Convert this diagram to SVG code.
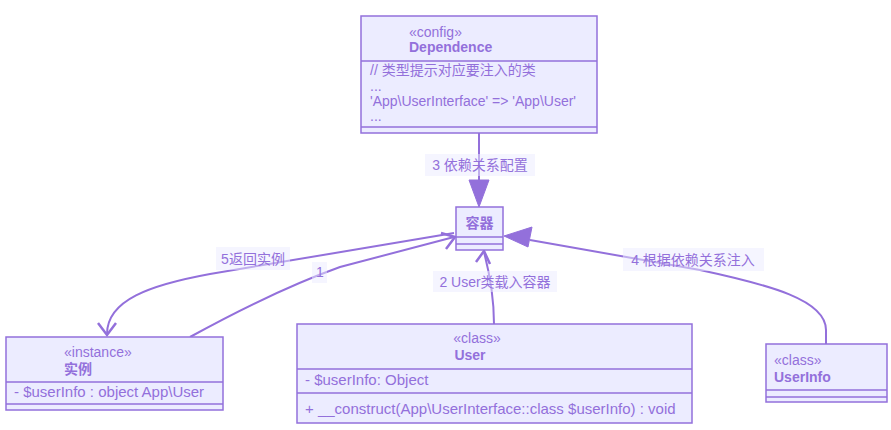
<svg xmlns="http://www.w3.org/2000/svg" width="891" height="430" viewBox="0 0 891 430">
<defs>
<style>
.box{fill:#ECECFF;stroke:#9370DB;stroke-width:1.5}
.div{stroke:#9370DB;stroke-width:1.5}
.t{font-family:"Liberation Sans","Noto Sans CJK SC",sans-serif;font-size:14px;fill:#9370DB}
.m{font-size:15px}
.b{font-weight:bold}
.edge{fill:none;stroke:#9370DB;stroke-width:2}
.head{fill:#9370DB;stroke:#9370DB;stroke-width:1}
.open{fill:none;stroke:#9370DB;stroke-width:2.5;stroke-linejoin:miter}
.lbg{fill:#ECECFF;opacity:0.5}
.lt{font-family:"Liberation Sans","Noto Sans CJK SC",sans-serif;font-size:14px;fill:#9370DB;text-anchor:middle}
</style>
</defs>
<rect width="891" height="430" fill="#ffffff"/>
<g id="connectors">
<path class="edge" d="M479,133 L479,182"/>
<polygon class="head" points="479,207 469,180 489,180"/>
<path class="edge" d="M826,344 L826,330 C826,300 770,285 700,270 L530,240"/>
<polygon class="head" points="504,236 532,227 528,247"/>
<path class="edge" d="M494,324 C494,300 490,275 484,252"/>
<path class="open" d="M476,262 L484,251 L490,264"/>
<path class="edge" d="M190,337 C230,315 290,285 340,267 L454,237"/>
<path class="open" d="M441,233 L455,237 L446,249"/>
<path class="edge" d="M454,233 L210,274 C150,285 107,300 107,334"/>
<path class="open" d="M98,323 L107,335 L116,323"/>
</g>
<g id="labels">
<rect class="lbg" x="425" y="154" width="110" height="22"/>
<text class="lt" x="480" y="170">3 依赖关系配置</text>
<rect class="lbg" x="433" y="271" width="124" height="21"/>
<text class="lt" x="495" y="287">2 User类载入容器</text>
<rect class="lbg" x="623" y="248" width="141" height="23"/>
<text class="lt" x="693" y="265">4 根据依赖关系注入</text>
<rect class="lbg" x="216" y="247" width="74" height="23"/>
<text class="lt" x="253" y="264">5返回实例</text>
<rect class="lbg" x="312" y="262" width="15" height="21"/>
<text class="lt" x="320" y="277">1</text>
</g>
<g id="node-dependence">
<rect class="box" x="361" y="16" width="236" height="117"/>
<line class="div" x1="361" y1="61" x2="597" y2="61"/>
<line class="div" x1="361" y1="127" x2="597" y2="127"/>
<text class="t" x="409" y="37" font-size="13">«config»</text>
<text class="t b" x="409" y="52">Dependence</text>
<text class="t" x="370" y="75">// 类型提示对应要注入的类</text>
<text class="t" x="370" y="91" font-size="11">...</text>
<text class="t" x="370" y="106" font-size="14.5">'App\UserInterface' =&gt; 'App\User'</text>
<text class="t" x="370" y="121" font-size="11">...</text>
</g>
<g id="node-container">
<rect class="box" x="456" y="207" width="47" height="43"/>
<line class="div" x1="456" y1="237" x2="503" y2="237"/>
<line class="div" x1="456" y1="244" x2="503" y2="244"/>
<text class="t b" x="479.5" y="228" text-anchor="middle">容器</text>
</g>
<g id="node-instance">
<rect class="box" x="6" y="337" width="217" height="73"/>
<line class="div" x1="6" y1="382" x2="223" y2="382"/>
<line class="div" x1="6" y1="404" x2="223" y2="404"/>
<text class="t" x="64" y="357">«instance»</text>
<text class="t b" x="64" y="374">实例</text>
<text class="t m" x="14" y="397">- $userInfo : object App\User</text>
</g>
<g id="node-user">
<rect class="box" x="297" y="324" width="395" height="99"/>
<line class="div" x1="297" y1="369" x2="692" y2="369"/>
<line class="div" x1="297" y1="393" x2="692" y2="393"/>
<text class="t" x="477" y="343" text-anchor="middle">«class»</text>
<text class="t b" x="470" y="360" text-anchor="middle">User</text>
<text class="t m" x="305" y="385">- $userInfo: Object</text>
<text class="t m" x="305" y="414">+ __construct(App\UserInterface::class $userInfo) : void</text>
</g>
<g id="node-userinfo">
<rect class="box" x="766" y="344" width="121" height="58"/>
<line class="div" x1="766" y1="390" x2="887" y2="390"/>
<line class="div" x1="766" y1="397" x2="887" y2="397"/>
<text class="t" x="774" y="365" font-size="13">«class»</text>
<text class="t b" x="774" y="382">UserInfo</text>
</g>
</svg>
